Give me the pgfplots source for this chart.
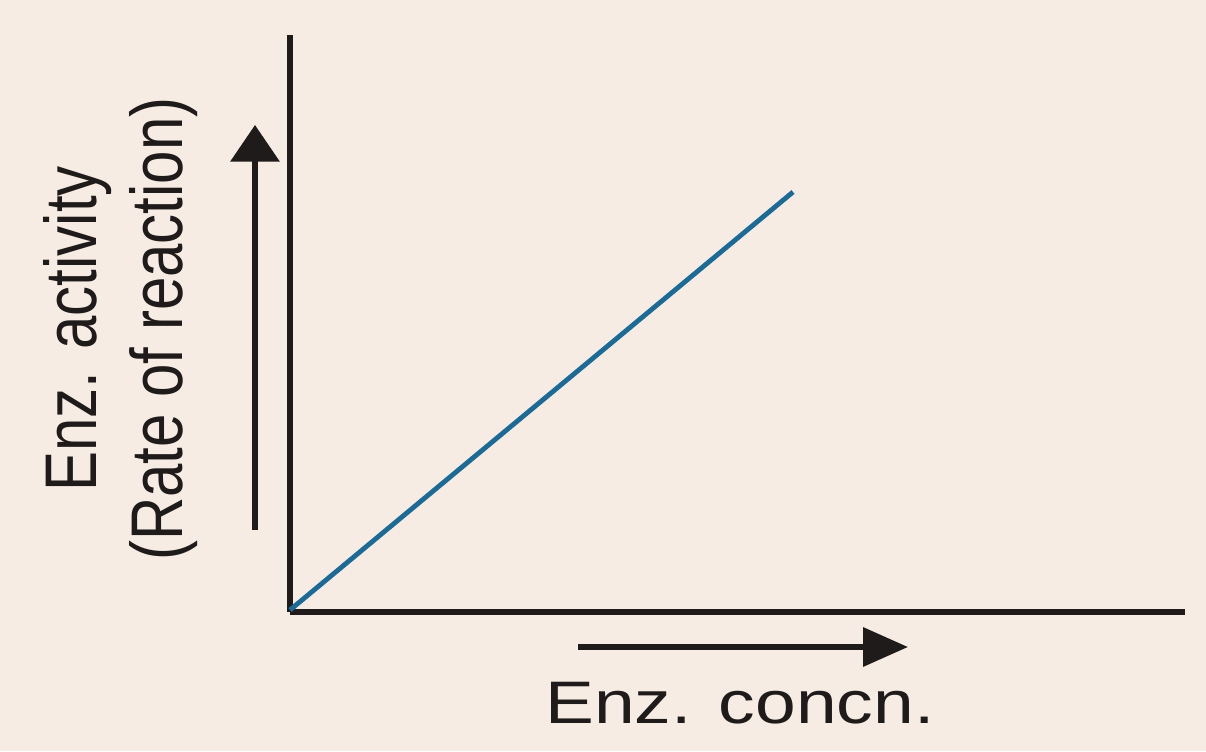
\documentclass[border=0pt]{standalone}
\usepackage{pgfplots}
\pgfplotsset{compat=1.18}
\usepackage{fontspec}
\setmainfont{Liberation Sans}
\usetikzlibrary{arrows.meta}
\definecolor{bgc}{HTML}{F6ECE4}
\definecolor{linec}{HTML}{1C6B96}
\definecolor{ink}{HTML}{1E1B1A}
\begin{document}
\begin{tikzpicture}
\fill[bgc] (-87pt,-41.7pt) rectangle (274.8pt,183.6pt);
\begin{axis}[
  at={(0,0)}, anchor=south west,
  scale only axis, width=268.5pt, height=173.1pt,
  xmin=0, xmax=895, ymin=0, ymax=577,
  axis lines=left,
  axis line style={line width=1.6pt, -, ink},
  ticks=none,
  clip=false,
]
\addplot[linec, line width=1.45pt] coordinates {(0,2) (503,420)};
\draw[ink, line width=1.7pt, -{Triangle[length=11pt,width=14.5pt]}] (axis cs:-35,82) -- (axis cs:-35,487);
\draw[ink, line width=1.7pt, -{Triangle[length=13.5pt,width=11.5pt]}] (axis cs:288,-35) -- (axis cs:618,-35);
\node[ink, anchor=base, inner sep=0pt] at (axis cs:450,-111) {\scalebox{1.22}[1]{\fontsize{18}{20}\selectfont Enz. concn.}};
\node[ink, inner sep=0pt] at (axis cs:-212,283) {\scalebox{1.22}[1]{\rotatebox{90}{\fontsize{18}{20}\selectfont Enz. activity}}};
\node[ink, inner sep=0pt] at (axis cs:-126,283) {\scalebox{1.22}[1]{\rotatebox{90}{\fontsize{18}{20}\selectfont (Rate of reaction)}}};
\end{axis}
\pgfresetboundingbox
\useasboundingbox (-87pt,-41.7pt) rectangle (274.8pt,183.6pt);
\end{tikzpicture}
\end{document}
